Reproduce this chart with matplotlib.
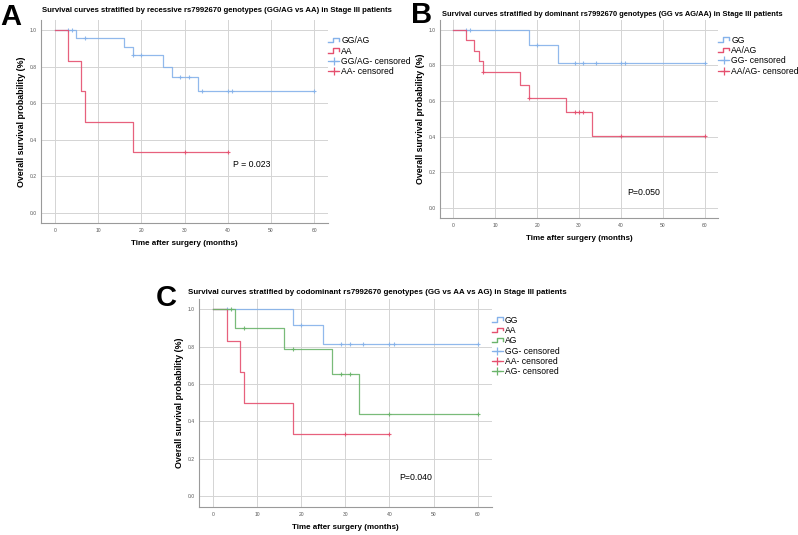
import numpy as np
import matplotlib.pyplot as plt
from matplotlib.lines import Line2D
from matplotlib.legend_handler import HandlerBase

plt.rcParams['font.family'] = ['Liberation Sans', 'DejaVu Sans']

# ---- data ----
# Panel A: recessive model
a_ggag_t = [0, 5, 16, 18, 25, 27, 33, 60]
a_ggag_s = [1.0, 0.955, 0.909, 0.864, 0.800, 0.745, 0.665, 0.665]
a_ggag_cens = [3, 4, 7, 18, 20, 29, 31, 34, 40, 41, 60]
a_aa_t = [0, 3, 6, 7, 18, 40]
a_aa_s = [1.0, 0.833, 0.667, 0.500, 0.333, 0.333]
a_aa_cens = [30, 40]

# Panel B: dominant model
b_gg_t = [0, 18, 25, 60]
b_gg_s = [1.0, 0.917, 0.815, 0.815]
b_gg_cens = [3, 4, 20, 29, 31, 34, 40, 41, 60]
b_aaag_t = [0, 3, 5, 6, 7, 16, 18, 27, 33, 60]
b_aaag_s = [1.0, 0.941, 0.882, 0.824, 0.765, 0.691, 0.617, 0.540, 0.405, 0.405]
b_aaag_cens = [7, 18, 29, 30, 31, 40, 60]

# Panel C: codominant model
c_gg_t = [0, 18, 25, 60]
c_gg_s = [1.0, 0.917, 0.815, 0.815]
c_gg_cens = [3, 20, 29, 31, 34, 40, 41, 60]
c_aa_t = [0, 3, 6, 7, 18, 40]
c_aa_s = [1.0, 0.833, 0.667, 0.500, 0.333, 0.333]
c_aa_cens = [30, 40]
c_ag_t = [0, 5, 16, 27, 33, 60]
c_ag_s = [1.0, 0.900, 0.788, 0.656, 0.438, 0.438]
c_ag_cens = [4, 7, 18, 29, 31, 40, 60]

x_ticks = [0, 10, 20, 30, 40, 50, 60]
y_ticks = [0.0, 0.2, 0.4, 0.6, 0.8, 1.0]

BLUE = '#85b2ea'
RED = '#e5506f'
GREEN = '#6ab46a'


class StepHandler(HandlerBase):
    # little step icon like SPSS uses in its legend
    def create_artists(self, legend, orig, xd, yd, w, h, fontsize, trans):
        xs = np.array([0.0, 0.45, 0.45, 1.0, 1.0]) * w - xd
        ys = np.array([0.15, 0.15, 0.9, 0.9, 0.45]) * h - yd
        ln = Line2D(xs, ys, color=orig.get_color(), lw=1.0, transform=trans)
        return [ln]


def surv_at(t, s, x):
    idx = np.searchsorted(t, x, side='right') - 1
    return np.array(s)[idx]


def km_panel(ax, curves, ptext, pxy):
    for c in curves:
        ax.step(c['t'], c['s'], where='post', color=c['color'], lw=0.9, alpha=0.9)
        ax.plot(c['cens'], surv_at(c['t'], c['s'], c['cens']), '+',
                color=c['color'], ms=3.5, mew=0.8, alpha=0.9)
    ax.set_xlim(-3.2, 63.2)
    ax.set_ylim(-0.056, 1.055)
    ax.set_xticks(x_ticks)
    ax.set_yticks(y_ticks)
    ax.set_xticklabels([str(v) for v in x_ticks])
    ax.set_yticklabels(['%.1f' % v for v in y_ticks])
    ax.tick_params(length=0, labelsize=3.6, colors='#555555')
    ax.tick_params(axis='y', pad=3)
    ax.tick_params(axis='x', pad=3.5)
    ax.grid(True, color='#d4d4d4', lw=0.7)
    ax.set_axisbelow(True)
    for sp in ['top', 'right']:
        ax.spines[sp].set_visible(False)
    for sp in ['left', 'bottom']:
        ax.spines[sp].set_color('#9a9a9a')
        ax.spines[sp].set_linewidth(0.8)
    ax.set_xlabel('Time after surgery (months)', fontsize=5.8, fontweight='bold', labelpad=5)
    ax.set_ylabel('Overall survival probability (%)', fontsize=6.4, fontweight='bold', labelpad=3)
    ax.text(pxy[0], pxy[1], ptext, fontsize=6.3, va='center', ha='left')

    handles, labels = [], []
    for c in curves:
        handles.append(Line2D([], [], color=c['color']))
        labels.append(c['name'])
    cens_h = []
    for c in curves:
        cens_h.append(Line2D([], [], color=c['color'], lw=0.9, marker='+', ms=6, mew=0.9))
        labels.append(c['name'] + '- censored')
    ax.legend(handles + cens_h, labels, loc='upper left', bbox_to_anchor=(1.0, 0.92),
              frameon=False, fontsize=6.2, handlelength=1.3, handletextpad=0.25,
              labelspacing=0.15, borderaxespad=0.0, borderpad=0.0,
              handler_map={h: StepHandler() for h in handles})
    return ax


fig = plt.figure(figsize=(7.98, 5.35), dpi=100)

axA = fig.add_axes([0.0514, 0.5826, 0.3597, 0.380])
km_panel(axA, [
    dict(t=a_ggag_t, s=a_ggag_s, cens=a_ggag_cens, color=BLUE, name='GG/AG'),
    dict(t=a_aa_t, s=a_aa_s, cens=a_aa_cens, color=RED, name='AA'),
], 'P = 0.023', (41.2, 0.263))

axB = fig.add_axes([0.5514, 0.5925, 0.3484, 0.370])
km_panel(axB, [
    dict(t=b_gg_t, s=b_gg_s, cens=b_gg_cens, color=BLUE, name='GG'),
    dict(t=b_aaag_t, s=b_aaag_s, cens=b_aaag_cens, color=RED, name='AA/AG'),
], 'P=0.050', (41.4, 0.088))

axC = fig.add_axes([0.2497, 0.0529, 0.3664, 0.388])
km_panel(axC, [
    dict(t=c_gg_t, s=c_gg_s, cens=c_gg_cens, color=BLUE, name='GG'),
    dict(t=c_aa_t, s=c_aa_s, cens=c_aa_cens, color=RED, name='AA'),
    dict(t=c_ag_t, s=c_ag_s, cens=c_ag_cens, color=GREEN, name='AG'),
], 'P=0.040', (42.2, 0.10))

# titles and panel letters, placed in figure pixels
W, H = 798, 535
def ftext(x, y, s, **kw):
    fig.text(x / W, 1 - y / H, s, **kw)

ftext(42, 11, 'Survival curves stratified by recessive rs7992670 genotypes (GG/AG vs AA) in Stage III patients',
      fontsize=5.6, fontweight='bold', va='center', ha='left')
ftext(442, 15, 'Survival curves stratified by dominant rs7992670 genotypes (GG vs AG/AA) in Stage III patients',
      fontsize=5.45, fontweight='bold', va='center', ha='left')
ftext(188, 292.7, 'Survival curves stratified by codominant rs7992670 genotypes (GG vs AA vs AG) in Stage III patients',
      fontsize=5.7, fontweight='bold', va='center', ha='left')

ftext(0, 17, 'A', fontsize=21, fontweight='bold', va='center', ha='left')
ftext(411, 15, 'B', fontsize=21, fontweight='bold', va='center', ha='left')
ftext(156, 298, 'C', fontsize=21, fontweight='bold', va='center', ha='left')

fig.savefig('out.png', dpi=100)
